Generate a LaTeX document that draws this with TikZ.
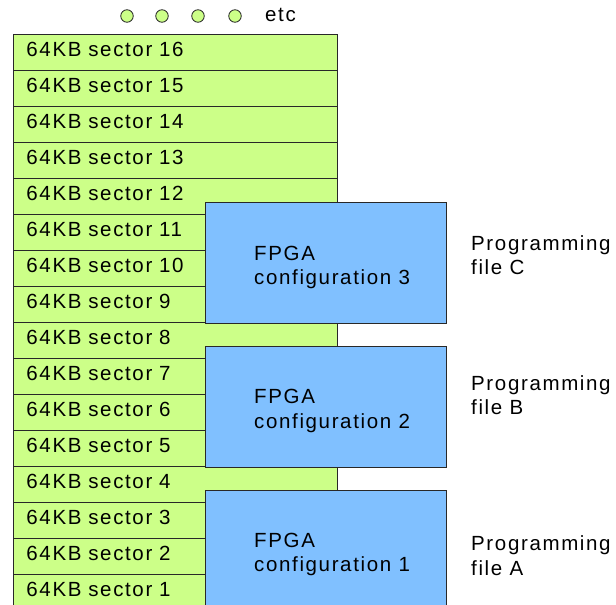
\documentclass[tikz,border=0pt]{standalone}
\usepackage{fontspec}
\setmainfont{Liberation Sans}[LetterSpace=8]
\definecolor{secgreen}{RGB}{204,255,136}
\definecolor{cfgblue}{RGB}{128,192,255}
\definecolor{edge}{RGB}{40,40,40}
\begin{document}
\begin{tikzpicture}[x=1pt,y=-1pt,
  txt/.style={font=\fontsize{20.5}{24.5}\selectfont, inner sep=0pt},
  sectorrow/.style={txt, draw=edge, line width=0.9pt, fill=secgreen, anchor=north west,
     minimum height=36pt, text width=298pt, inner xsep=13pt, inner ysep=0pt, align=left,
     text height=14.5pt, text depth=6pt},
  cfgbox/.style={draw=edge, line width=0.9pt, fill=cfgblue, anchor=north west,
     minimum width=241pt, minimum height=121pt, inner sep=0pt},
  lbl/.style={txt, anchor=west, align=left},
  dot/.style={circle, draw=edge, line width=0.8pt, fill=secgreen, minimum size=12.5pt, inner sep=0pt}
]
\useasboundingbox (0,0) rectangle (616,605);
% sectors
\foreach \k in {1,...,16}{
  \node[sectorrow] (s\k) at (13,{610-36*\k}) {64KB sector \k};
}
% configuration boxes
\node[cfgbox] (c3) at (205,202) {};
\node[cfgbox] (c2) at (205,346) {};
\node[cfgbox] (c1) at (205,490) {};
\node[lbl] (t3) at (254,267.5) {FPGA\\configuration 3};
\node[lbl] (t2) at (254,411) {FPGA\\configuration 2};
\node[lbl] (t1) at (254,554.5) {FPGA\\configuration 1};
% programming files
\node[lbl] (pC) at (471,255) {Programming\\file C};
\node[lbl] (pB) at (471,395) {Programming\\file B};
\node[lbl] (pA) at (471,555.5) {Programming\\file A};
% dots
\node[dot] (d1) at (127,16) {};
\node[dot] (d2) at (162,16) {};
\node[dot] (d3) at (198,16) {};
\node[dot] (d4) at (235,16) {};
\node[lbl] (etc) at (265,15) {etc};
\end{tikzpicture}
\end{document}
